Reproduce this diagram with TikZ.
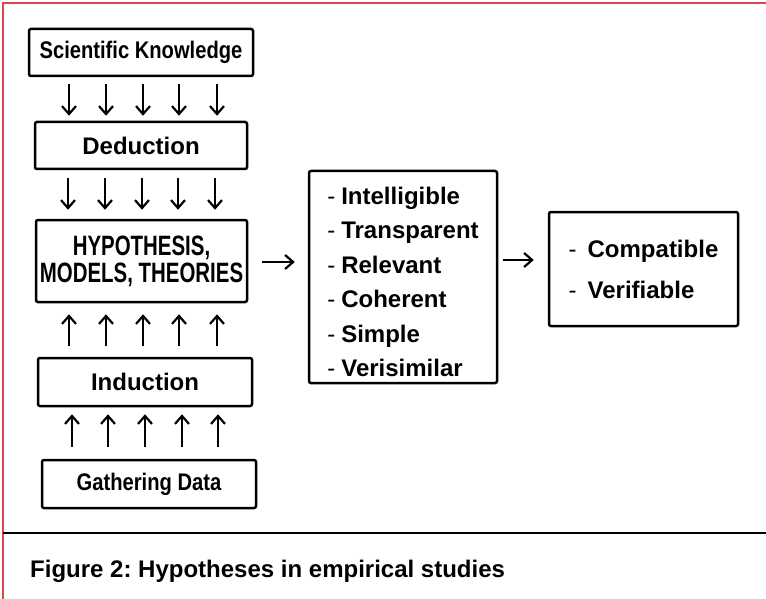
\documentclass[tikz,border=0pt]{standalone}
\usepackage{fontspec}
\setmainfont{Liberation Sans}
\newfontfamily\narrowsf[FakeStretch=0.84]{Liberation Sans}
\newfontfamily\condsf[FakeStretch=0.73]{Liberation Sans}
\usetikzlibrary{arrows.meta,positioning,calc}
\definecolor{frame}{HTML}{D9464B}
\newcommand{\itemdash}[1][14pt]{\makebox[#1][l]{\mdseries -}}
\frenchspacing
\tikzset{box/.style={draw,line width=2.5pt,rounded corners=2pt,align=center,inner sep=0pt,font=\bfseries\fontsize{24}{24}\selectfont},narrowbox/.style={box,font=\narrowsf\bfseries\fontsize{24}{24}\selectfont},listbox/.style={box,align=left},arr/.style={-{Straight Barb[length=8pt,width=14pt]},line width=2.2pt}}

\begin{document}
\begin{tikzpicture}[x=1pt,y=-1pt]
\useasboundingbox (0,0) rectangle (766,599);
% frame and rule
\draw[frame,line width=1.5pt] (3,599)--(3,3)--(766,3);
\draw[line width=2pt] (3,533)--(766,533);
% left column
\node[narrowbox,minimum width=224pt,minimum height=47pt] (sk) at (141,52.5) {Scientific Knowledge};
\node[box,minimum width=212pt,minimum height=47pt] (ded) at (141,145.5) {Deduction};
\node[box,minimum width=211pt,minimum height=82pt,font=\condsf\bfseries\fontsize{28}{27}\selectfont] (hyp) at (141.5,261) {HYPOTHESIS,\\MODELS, THEORIES};
\node[box,minimum width=214pt,minimum height=48pt] (ind) at (145,382) {Induction};
\node[narrowbox,minimum width=214pt,minimum height=48pt] (gat) at (149,484) {Gathering Data};
% criteria
\node[listbox,minimum width=188pt,minimum height=212pt,font=\bfseries\fontsize{24}{34.4}\selectfont] (lst) at (403,277) {\mbox{}\\[-7pt]\itemdash Intelligible\\\itemdash Transparent\\\itemdash Relevant\\\itemdash Coherent\\\itemdash Simple\\\itemdash Verisimilar};
\node[listbox,minimum width=189pt,minimum height=114pt,font=\bfseries\fontsize{24}{41}\selectfont] (crit) at (643.5,269) {\itemdash[19pt]Compatible\\\itemdash[19pt]Verifiable};
% arrows
\foreach \dx in {-72,-35,2,38,76}
  \draw[arr,shorten <=7pt,shorten >=5pt] ([xshift=\dx pt]sk.south)--([xshift=\dx pt]sk.south|-ded.north);
\foreach \dx in {-73,-36,1,37,74}
  \draw[arr,shorten <=8pt,shorten >=9pt] ([xshift=\dx pt]ded.south)--([xshift=\dx pt]ded.south|-hyp.north);
\foreach \dx in {-76,-39,-2,34,72}
  \draw[arr,shorten <=11pt,shorten >=11pt] ([xshift=\dx pt]ind.north)--([xshift=\dx pt]ind.north|-hyp.south);
\foreach \dx in {-77,-41,-4,33,69}
  \draw[arr,shorten <=12pt,shorten >=7pt] ([xshift=\dx pt]gat.north)--([xshift=\dx pt]gat.north|-ind.south);
\draw[arr,shorten <=14pt,shorten >=13pt] ([yshift=-1pt]hyp.east)--([yshift=-1pt]hyp.east-|lst.west);
\draw[arr,shorten <=5pt,shorten >=14pt] ([yshift=17pt]lst.east)--([yshift=17pt]lst.east-|crit.west);
% caption
\node[anchor=base west,inner sep=0pt,font=\bfseries\fontsize{24}{24}\selectfont] (cap) at (30,577) {Figure 2: Hypotheses in empirical studies};
\end{tikzpicture}
\end{document}
